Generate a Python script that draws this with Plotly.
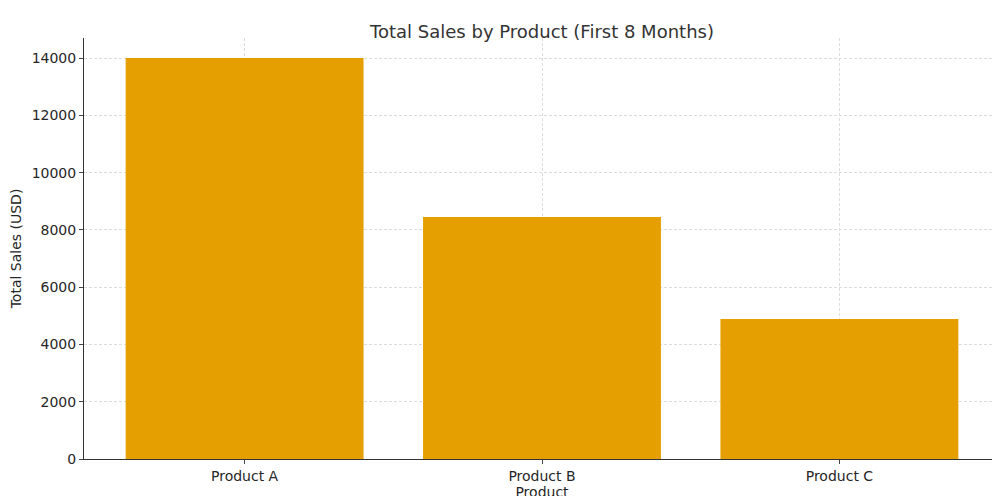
import plotly.graph_objects as go

products = ["Product A", "Product B", "Product C"]
total_sales = [14000, 8450, 4885]

fig = go.Figure()

fig.add_trace(go.Bar(
    x=products,
    y=total_sales,
    width=0.8,
    marker_color="#E69F00",
    marker_line_width=0,
))

fig.update_layout(
    width=1000,
    height=496,
    plot_bgcolor="white",
    paper_bgcolor="white",
    font=dict(family="DejaVu Sans", size=14, color="#262626"),
    margin=dict(l=76, r=8, t=30, b=45, autoexpand=False),
    title=dict(
        text="Total Sales by Product (First 8 Months)",
        x=0.534,
        xanchor="center",
        y=0.965,
        font=dict(size=18, color="#333333")
    ),
    xaxis=dict(
        title=dict(text="Product", standoff=2, font=dict(size=14)),
        range=[-0.54, 2.54],
        automargin=False,
        showgrid=True,
        gridcolor="#dcdcdc",
        griddash="3px,2px",
        gridwidth=0.8,
        showline=True,
        linecolor="#333333",
        ticks="outside",
        ticklen=4,
        tickfont=dict(size=14),
    ),
    yaxis=dict(
        title=dict(text="Total Sales (USD)", standoff=6, font=dict(size=14)),
        range=[0, 14700],
        dtick=2000,
        tickformat="d",
        automargin=False,
        showgrid=True,
        gridcolor="#dcdcdc",
        griddash="3px,2px",
        gridwidth=0.8,
        showline=True,
        linecolor="#333333",
        ticks="outside",
        ticklen=4,
        tickfont=dict(size=14),
        zeroline=False,
    ),
    bargap=0.2,
)

fig.write_html("out.html")
